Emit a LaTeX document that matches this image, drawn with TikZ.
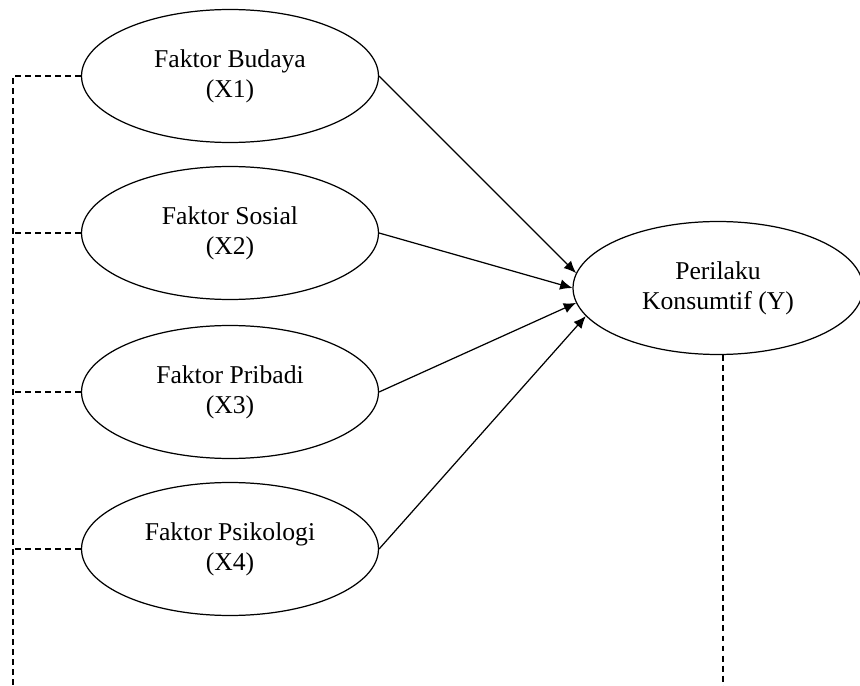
\documentclass[tikz,border=0pt]{standalone}
\usepackage{fontspec}
\setmainfont{Liberation Serif}
\usetikzlibrary{arrows.meta, shapes.geometric}
\begin{document}
\begin{tikzpicture}[x=0.02cm, y=-0.02cm,
    var/.style={ellipse, draw, line width=0.7pt, minimum width=5.94cm, minimum height=2.66cm, align=center, inner sep=0pt, font=\fontsize{14.6}{17}\selectfont},
    effect/.style={line width=0.7pt, -{Latex[length=7pt, width=6pt]}},
    link/.style={line width=0.7pt, dash pattern=on 3.4pt off 2.3pt}]
          \useasboundingbox (0,0) rectangle (860,686);
          \node[var] (nX1) at (230,76) {Faktor Budaya\\(X1)};
          \node[var] (nX2) at (230,233) {Faktor Sosial\\(X2)};
          \node[var] (nX3) at (230,392) {Faktor Pribadi\\(X3)};
          \node[var] (nX4) at (230,549) {Faktor Psikologi\\(X4)};
          \node[var, minimum width=5.8cm] (nY) at (718,288) {Perilaku\\Konsumtif (Y)};
          \coordinate (nBus) at (13,686);
          % pengaruh X ke Y
          \draw[effect] (nX1.east) -- (nY.174);
          \draw[effect] (nX2.east) -- (nY.180);
          \draw[effect] (nX3.east) -- (nY.186);
          \draw[effect] (nX4.east) -- (nY.192);
          % garis putus-putus
          \draw[link] (nX1.west) -- (nX1.west -| nBus) -- (nBus);
          \draw[link] (nX2.west) -- (nX2.west -| nBus);
          \draw[link] (nX3.west) -- (nX3.west -| nBus);
          \draw[link] (nX4.west) -- (nX4.west -| nBus);
          \draw[link] ([xshift=0.1cm]nY.south) -- ([xshift=0.1cm]nY.south |- nBus);
        \end{tikzpicture}
\end{document}
